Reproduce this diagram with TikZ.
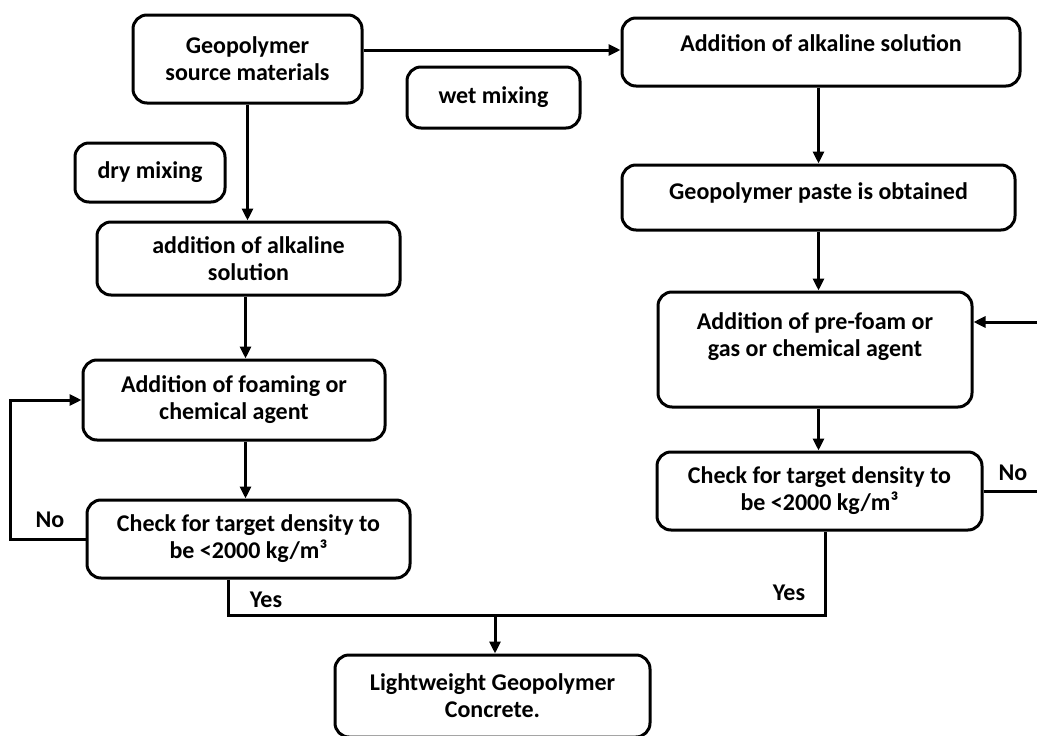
\documentclass[tikz,border=0pt]{standalone}
\usepackage{fontspec}
\setmainfont{Carlito}
\usetikzlibrary{arrows.meta}

\begin{document}
\begin{tikzpicture}[x=1pt, y=-1pt, line width=3pt,
  every node/.style={font=\bfseries\fontsize{24}{27}\selectfont},
  box/.style={draw, rounded corners=14pt, align=center, inner sep=0pt},
  lbl/.style={inner sep=1pt},
  arr/.style={-{Triangle[length=12pt,width=11pt]}}]
  \useasboundingbox (0,0) rectangle (1037,736);

  %----- left column: dry mixing -----
  \node[box, minimum width=229, minimum height=88] (src) at (247.5,59) {Geopolymer\\source materials};
  \node[box, minimum width=173, minimum height=61] (wet) at (493.5,97.5) {wet mixing};
  \node[box, minimum width=150, minimum height=59] (dry) at (150,172.5) {dry mixing};
  \node[box, minimum width=303, minimum height=73] (addL) at (248.5,258.5) {addition of alkaline\\solution};
  \node[box, minimum width=302, minimum height=80] (foamL) at (234,400) {Addition of foaming or\\chemical agent};
  \node[box, minimum width=323, minimum height=78] (chkL) at (248.5,539) {Check for target density to\\be <2000 kg/m³};

  %----- right column: wet mixing (text sits high in the box) -----
  \node[box, minimum width=398, minimum height=68,
        label={[yshift=9pt]center:Addition of alkaline solution}] (alk) at (821,52) {};
  \node[box, minimum width=393, minimum height=65,
        label={[yshift=5pt]center:Geopolymer paste is obtained}] (paste) at (818.5,197.5) {};
  \node[box, minimum width=314, minimum height=115,
        label={[yshift=13pt, align=center]center:Addition of pre-foam or\\gas or chemical agent}] (foamR) at (815,349.5) {};
  \node[box, minimum width=325, minimum height=78] (chkR) at (819.5,491) {Check for target density to\\be <2000 kg/m³};

  %----- end product -----
  \node[box, minimum width=315, minimum height=82] (final) at (492.5,696) {Lightweight Geopolymer\\Concrete.};
  \coordinate (merge) at (495,615);

  %----- main flow -----
  \draw[arr] ([yshift=9pt]src.east) -- ([yshift=9pt]src.east -| alk.west);
  \draw[arr] (src.south) -- (src.south |- addL.north);
  \draw[arr] ([xshift=-3pt]addL.south) -- ([xshift=-3pt]addL.south |- foamL.north);
  \draw[arr] ([xshift=-3pt]addL.south |- foamL.south) -- ([xshift=-3pt]addL.south |- chkL.north);
  \draw[arr] (paste.north |- alk.south) -- (paste.north);
  \draw[arr] (paste.south) -- (paste.south |- foamR.north);
  \draw[arr] (paste.south |- foamR.south) -- (paste.south |- chkR.north);

  %----- No loops -----
  \draw[arr] (chkL.west) -- ++(-75,0) |- (foamL.west);
  \node[lbl] (noL) at (50,520) {No};
  \draw[arr] (chkR.east) -- ++(70,0) |- ([yshift=27.5pt]foamR.east);
  \node[lbl] (noR) at (1013,473) {No};

  %----- Yes branches -----
  \draw ([xshift=-20.5pt]chkL.south) |- (merge) -| ([xshift=6pt]chkR.south);
  \draw[arr] (merge) -- (merge |- final.north);
  \node[lbl] (yesL) at (266,600) {Yes};
  \node[lbl] (yesR) at (789,593) {Yes};
\end{tikzpicture}
\end{document}
